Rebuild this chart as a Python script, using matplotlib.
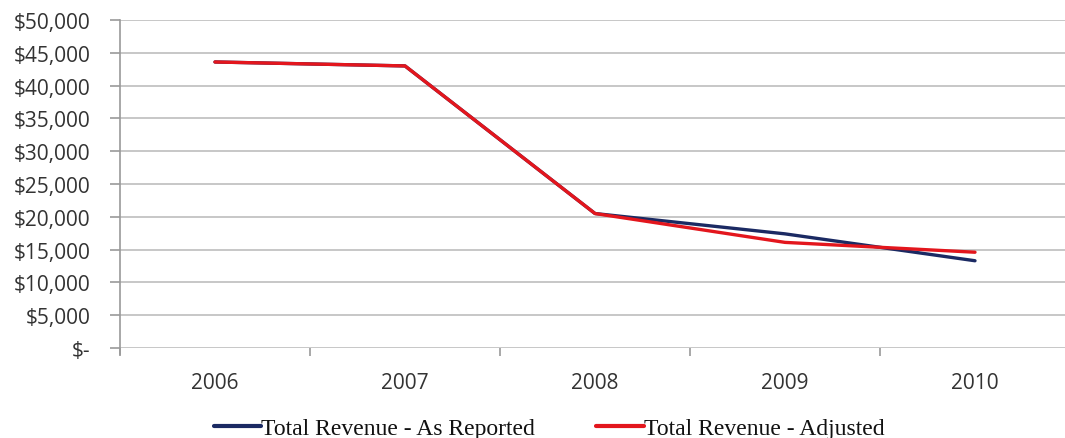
import matplotlib
matplotlib.use("Agg")
import matplotlib.pyplot as plt
from matplotlib.ticker import FuncFormatter, FixedLocator

years = ["2006", "2007", "2008", "2009", "2010"]
as_reported = [43600, 43000, 20500, 17400, 13300]
adjusted = [43600, 43000, 20500, 16100, 14600]
series_names = ["Total Revenue - As Reported", "Total Revenue - Adjusted"]

W, H = 1065, 439
fig = plt.figure(figsize=(W / 100, H / 100), dpi=100)
left, right, top, bottom = 120, 1070, 21, 349
ax = fig.add_axes([left / W, 1 - bottom / H, (right - left) / W, (bottom - top) / H])

x = list(range(len(years)))
ax.plot(x, as_reported, color="#1b2a63", lw=2.4, solid_capstyle="round", label=series_names[0], zorder=3)
ax.plot(x, adjusted, color="#e3161d", lw=2.4, solid_capstyle="round", label=series_names[1], zorder=4)

ax.set_xlim(-0.5, len(years) - 0.5)
ax.set_ylim(0, 50000)
ax.set_yticks(range(0, 50001, 5000))
ax.yaxis.set_major_formatter(FuncFormatter(lambda v, p: "$-" if v == 0 else f"${int(v):,}"))
ax.grid(axis="y", color="#bdbdbd", lw=1.2)
ax.set_axisbelow(True)

ax.set_xticks(x)
ax.set_xticklabels(years)
ax.xaxis.set_minor_locator(FixedLocator([i - 0.5 for i in range(len(years) + 1)]))
ax.tick_params(axis="x", which="major", length=0, pad=17, labelsize=15, labelcolor="#333333")
ax.tick_params(axis="x", which="minor", length=6, color="#9a9a9a", width=1.2)
ax.tick_params(axis="y", length=7, color="#9a9a9a", width=1.2, labelsize=15, labelcolor="#333333", pad=14)
for lab in ax.get_xticklabels() + ax.get_yticklabels():
    lab.set_family("Open Sans")

for s in ["top", "right", "bottom"]:
    ax.spines[s].set_visible(False)
ax.spines["left"].set_color("#9a9a9a")
ax.spines["left"].set_linewidth(1.2)
ax.spines["left"].set_bounds(-900, 50000)

leg = fig.legend(loc="center", bbox_to_anchor=(549 / W, 1 - 429 / H), ncol=2, frameon=False,
                 prop={"family": "Liberation Serif", "size": 17}, handlelength=2.0,
                 handletextpad=0.0, columnspacing=2.6)
for t in leg.get_texts():
    t.set_color("#111111")
for h in leg.get_lines():
    h.set_linewidth(3)

fig.savefig("out.png", dpi=100, facecolor="white")
